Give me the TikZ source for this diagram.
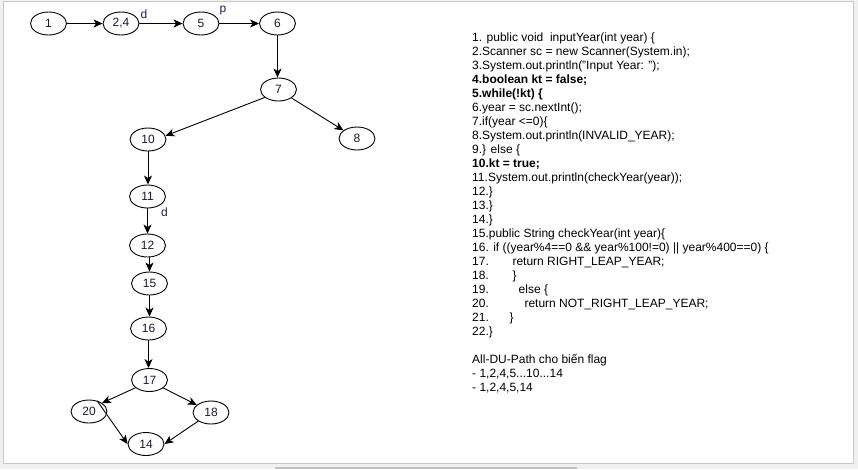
\documentclass[tikz,border=0pt]{standalone}
\usepackage{fontspec}
\setmainfont{Liberation Sans}
\usetikzlibrary{shapes.geometric,arrows.meta}
\definecolor{bgc}{RGB}{240,240,240}
\definecolor{bordc}{RGB}{200,200,200}
\definecolor{scrollc}{RGB}{192,192,192}
\definecolor{labcol}{RGB}{30,30,90}
\definecolor{nodetext}{RGB}{25,25,45}
\begin{document}
\begin{tikzpicture}[x=1pt,y=-1pt,
  vnode/.style={draw=black,line width=0.9pt,ellipse,minimum width=36pt,minimum height=23pt,inner sep=0pt,font=\fontsize{12}{14}\selectfont,text=nodetext},
  edge/.style={draw=black,line width=0.9pt,-{Stealth[length=9pt,width=8pt,inset=2.5pt]}},
  lab/.style={font=\fontsize{12}{14}\selectfont,text=labcol,inner sep=0pt},
  code/.style={font=\fontsize{12}{14}\selectfont,anchor=base west,inner sep=0pt,text=black}]
\useasboundingbox (0,0) rectangle (858,469);
\fill[bgc] (0,0) rectangle (858,469);
\filldraw[fill=white,draw=bordc] (3,1.5) rectangle (853,463.5);
\fill[scrollc] (275,466.5) rectangle (577,469);

% graph nodes
\node[vnode] (n1)  at (48.5,23.5) {1};
\node[vnode] (n24) at (121,23.5) {2,4};
\node[vnode] (n5)  at (201,23.5) {5};
\node[vnode] (n6)  at (277.5,23.5) {6};
\node[vnode] (n7)  at (278.5,89.5) {7};
\node[vnode] (n10) at (148,139.5) {10};
\node[vnode] (n8)  at (357,138.5) {8};
\node[vnode] (n11) at (147.5,196.5) {11};
\node[vnode] (n12) at (147.5,245.5) {12};
\node[vnode] (n15) at (149.5,283.5) {15};
\node[vnode] (n16) at (148.5,328.5) {16};
\node[vnode] (n17) at (149.5,380) {17};
\node[vnode] (n20) at (89,411.5) {20};
\node[vnode] (n18) at (211,412.5) {18};
\node[vnode] (n14) at (146,444) {14};

% labels
\node[lab] (ld1) at (144,14) {d};
\node[lab] (lp)  at (223,11) {p};
\node[lab] (ld2) at (164.5,212) {d};

% edges
\draw[edge] (n1) -- (n24);
\draw[edge] (n24) -- (n5);
\draw[edge] (n5) -- (n6);
\draw[edge] (n6.south) -- (n6.south |- n7.north);
\draw[edge] (n7.210) -- (n10.12);
\draw[edge] (n7.327) -- (n8.149);
\draw[edge] (n10.south) -- (n10.south |- n11.north);
\draw[edge] (n11) -- (n12);
\draw[edge] (n15.north |- n12.south) -- (n15.north);
\draw[edge] (n15.south) -- (n15.south |- n16.north);
\draw[edge] (n16.south) -- (n16.south |- n17.north);
\draw[edge] (n17.209) -- (n20.33);
\draw[edge] (n17.330) -- (n18.152);
\draw[edge] (n20.53) -- (n14.west);
\draw[edge] (n18.214) -- (n14.east);

% code
\node[code] (c1)  at (472,41) {1. public void~ inputYear(int year) \{};
\node[code] (c2)  at (472,55) {2.Scanner sc = new Scanner(System.in);};
\node[code] (c3)  at (472,69) {3.System.out.println("Input Year: ");};
\node[code,font=\fontsize{12}{14}\selectfont\bfseries] (c4)  at (472,83) {4.boolean kt = false;};
\node[code,font=\fontsize{12}{14}\selectfont\bfseries] (c5)  at (472,97) {5.while(!kt) \{};
\node[code] (c6)  at (472,111) {6.year = sc.nextInt();};
\node[code] (c7)  at (472,125) {7.if(year <=0)\{};
\node[code] (c8)  at (472,139) {8.System.out.println(INVALID\_YEAR);};
\node[code] (c9)  at (472,153) {9.\} else \{};
\node[code,font=\fontsize{12}{14}\selectfont\bfseries] (c10) at (472,167) {10.kt = true;};
\node[code] (c11) at (472,181) {11.System.out.println(checkYear(year));};
\node[code] (c12) at (472,195) {12.\}};
\node[code] (c13) at (472,209) {13.\}};
\node[code] (c14) at (472,223) {14.\}};
\node[code] (c15) at (472,237) {15.public String checkYear(int year)\{};
\node[code] (c16) at (472,251) {16. if ((year\%4==0 \&\& year\%100!=0) || year\%400==0) \{};
\node[code] (c17) at (472,265) {17.};
\node[code] (c17b) at (512.3,265) {return RIGHT\_LEAP\_YEAR;};
\node[code] (c18) at (472,279) {18.};
\node[code] (c18b) at (512.3,279) {\}};
\node[code] (c19) at (472,293) {19.};
\node[code] (c19b) at (518.5,293) {else \{};
\node[code] (c20) at (472,307) {20.};
\node[code] (c20b) at (524.3,307) {return NOT\_RIGHT\_LEAP\_YEAR;};
\node[code] (c21) at (472,321) {21.};
\node[code] (c21b) at (509.3,321) {\}};
\node[code] (c22) at (472,335) {22.\}};
\node[code] (t1) at (472,363) {All-DU-Path cho biến flag};
\node[code] (t2) at (472,377) {- 1,2,4,5...10...14};
\node[code] (t3) at (472,391) {- 1,2,4,5,14};
\end{tikzpicture}
\end{document}
